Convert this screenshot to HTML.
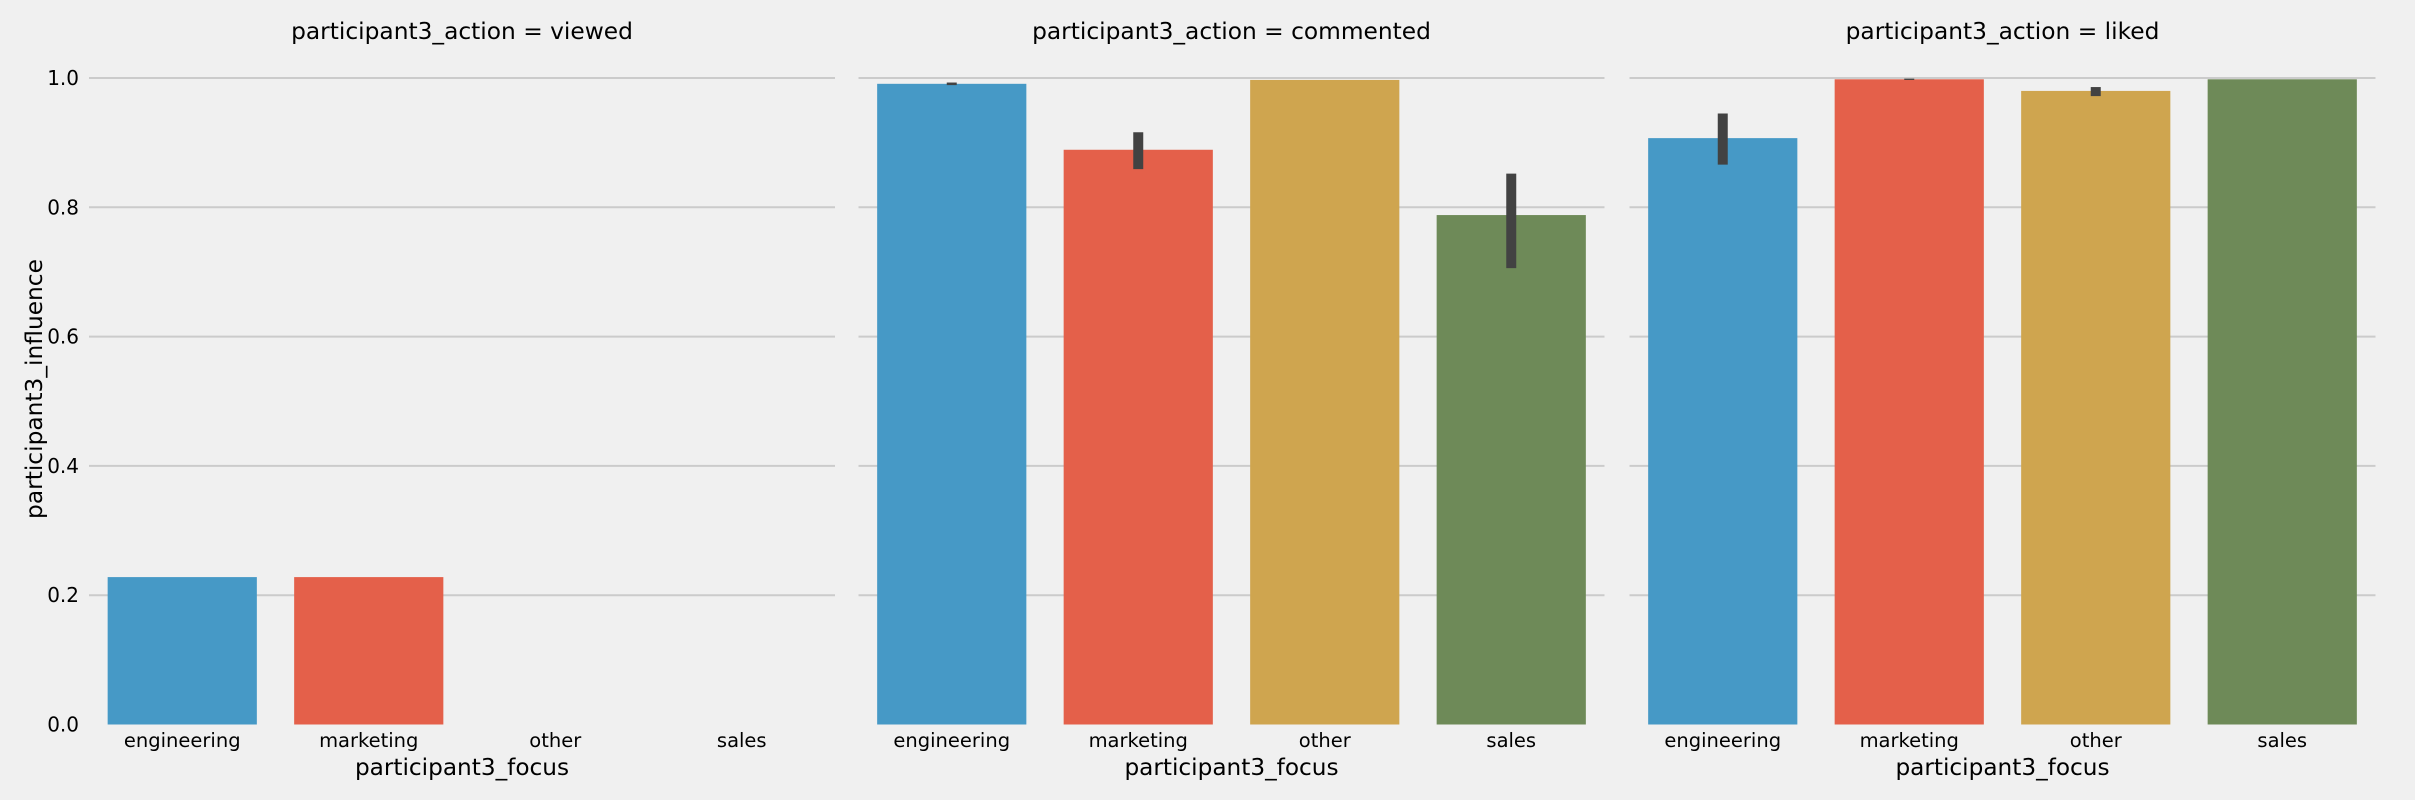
<!DOCTYPE html>
<html><head><meta charset="utf-8"><style>
html,body{margin:0;padding:0;background:#f0f0f0;}
svg{display:block;font-family:"DejaVu Sans","Liberation Sans",sans-serif;}
</style></head><body>
<svg id="chart" width="2415" height="800" viewBox="0 0 2415 800" xmlns="http://www.w3.org/2000/svg">
<rect x="0" y="0" width="2415" height="800" fill="#f0f0f0"/>
</svg>
<script>
const categories = ["engineering","marketing","other","sales"];
const panels = ["viewed","commented","liked"];
const viewedValues = [0.228, 0.228, null, null];
const viewedLow = [null, null, null, null];
const viewedHigh = [null, null, null, null];
const commentedValues = [0.991, 0.889, 0.997, 0.788];
const commentedLow = [0.989, 0.859, null, 0.706];
const commentedHigh = [0.993, 0.916, null, 0.852];
const likedValues = [0.907, 0.998, 0.980, 0.998];
const likedLow = [0.866, 0.997, 0.972, null];
const likedHigh = [0.945, 0.999, 0.986, null];
const yTicks = [0, 0.2, 0.4, 0.6, 0.8, 1.0];
const yTickLabels = ["0.0","0.2","0.4","0.6","0.8","1.0"];

const seriesVals = [viewedValues, commentedValues, likedValues];
const seriesLow = [viewedLow, commentedLow, likedLow];
const seriesHigh = [viewedHigh, commentedHigh, likedHigh];
const colors = ["#4699c6","#e4604a","#cfa54f","#6e8a58"];
const NS = "http://www.w3.org/2000/svg";
const svg = document.getElementById("chart");
const panelLeft = [89, 858.5, 1629.5];
const panelW = 746;
const y0 = 724.5, y1 = 78;
function yScale(v){ return y0 - (y0 - y1) * v; }
function xBand(p, i){ return panelLeft[p] + panelW / categories.length * i; }
function mk(tag, attrs){ const e = document.createElementNS(NS, tag); for (const k in attrs) e.setAttribute(k, attrs[k]); svg.appendChild(e); return e; }

panels.forEach((name, p) => {
  const L = panelLeft[p];
  yTicks.forEach((t, k) => {
    if (t > 0) {
      const g = mk("line", {x1: L, x2: L + panelW, y1: yScale(t), y2: yScale(t), stroke: "#cbcbcb", "stroke-width": 2});
      
      
    }
    if (p === 0) {
      const tl = mk("text", {x: 79, y: yScale(t) + 7, "text-anchor": "end", "font-size": 20, fill: "#000"});
      tl.textContent = yTickLabels[k];
      
      
    }
  });
  const title = mk("text", {x: L + panelW / 2, y: 39, "text-anchor": "middle", "font-size": 23.3, fill: "#000"});
  title.textContent = "participant3_action = " + name;
  
  
  const bw = panelW / categories.length;
  categories.forEach((c, i) => {
    const v = seriesVals[p][i];
    const cx = xBand(p, i) + bw / 2;
    if (v !== null) {
      const r = mk("rect", {x: cx - bw * 0.4, y: yScale(v), width: bw * 0.8, height: yScale(0) - yScale(v), fill: colors[i]});
      
      
    }
    const lo = seriesLow[p][i], hi = seriesHigh[p][i];
    if (lo !== null && hi !== null) {
      const e = mk("line", {x1: cx, x2: cx, y1: yScale(hi), y2: yScale(lo), stroke: "#424242", "stroke-width": 10});
      
      
    }
    const xl = mk("text", {x: cx, y: 747, "text-anchor": "middle", "font-size": 19.5, fill: "#000"});
    xl.textContent = c;
    
    
  });
  const xt = mk("text", {x: L + panelW / 2, y: 775, "text-anchor": "middle", "font-size": 23.2, fill: "#000"});
  xt.textContent = "participant3_focus";
  
  
});
const yt = mk("text", {x: 0, y: 0, "text-anchor": "middle", "font-size": 23.3, fill: "#000", transform: "translate(42,389) rotate(-90)"});
yt.textContent = "participant3_influence";


</script>
</body></html>
